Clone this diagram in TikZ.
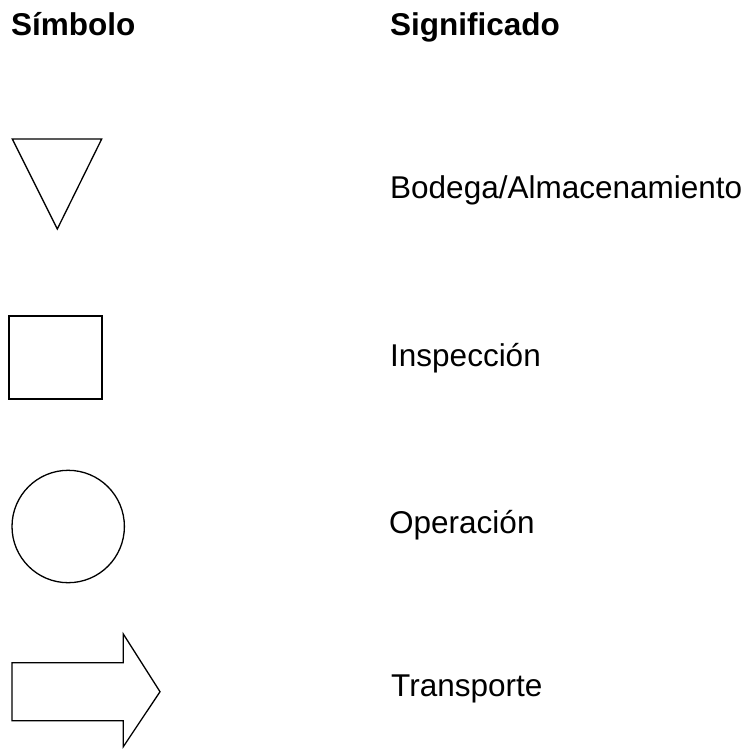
\documentclass[tikz,border=0pt]{standalone}
\usepackage{fontspec}
\setmainfont{Liberation Sans}
\begin{document}
\begin{tikzpicture}[x=1pt,y=-1pt,
  lbl/.style={anchor=base west,inner sep=0pt,font=\fontsize{31.5}{38}\selectfont},
  hdr/.style={lbl,font=\fontsize{31.5}{38}\selectfont\bfseries},
  sym/.style={draw=black,line width=1.3pt,line join=miter},
  symthick/.style={draw=black,line width=2.2pt}]
\useasboundingbox (0,0) rectangle (754,748);
% headers
\node[hdr] (hsym) at (11,35) {Símbolo};
\node[hdr] (hsig) at (390,35) {Significado};
% storage triangle
\draw[sym] (12.3,139) -- (101.7,139) -- (57.3,229) -- cycle;
\node[lbl] (t1) at (390,198) {Bodega/Almacenamiento};
% inspection square
\draw[symthick] (9.3,316) rectangle (101.7,399.3);
\node[lbl] (t2) at (390,366.7) {Inspección};
% operation circle
\draw[sym] (68.2,526.5) circle (56.2);
\node[lbl] (t3) at (389,533) {Operación};
% transport arrow
\draw[sym] (12,662.7) -- (123.3,662.7) -- (123.3,634) -- (160,691.7) -- (123.3,746.7) -- (123.3,720.7) -- (12,720.7) -- cycle;
\node[lbl] (t4) at (391,696.7) {Transporte};
\end{tikzpicture}
\end{document}
